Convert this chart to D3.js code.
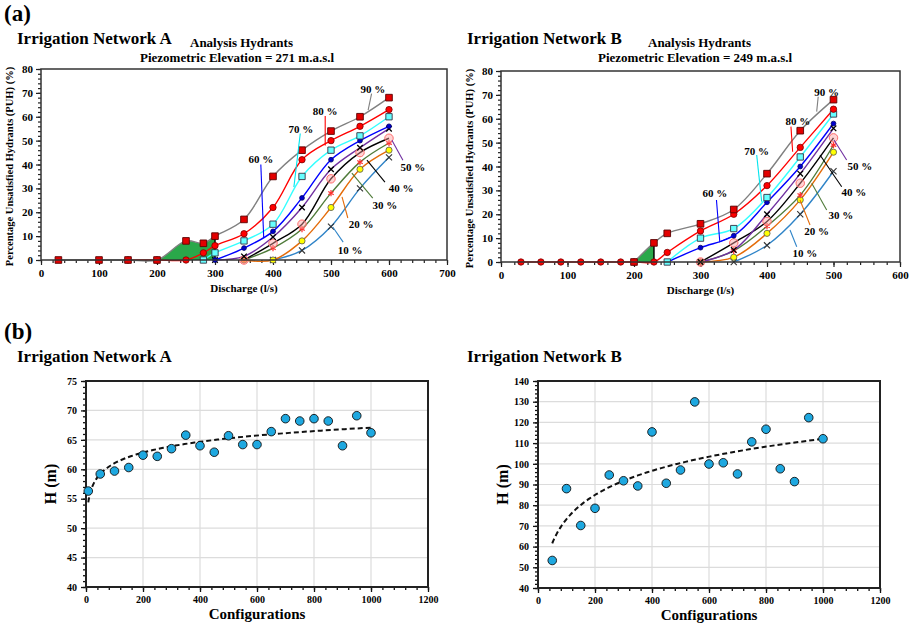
<!DOCTYPE html>
<html>
<head>
<meta charset="utf-8">
<script src="https://cdn.jsdelivr.net/npm/d3@7"></script>
<style>
  body { margin: 0; background: #fff; }
  svg { font-family: 'Liberation Serif', 'Times New Roman', serif; font-weight: bold; }
</style>
</head>
<body>
<svg id="fig" width="913" height="628" font-family="'Liberation Serif', 'Times New Roman', serif" font-weight="bold"></svg>
<script>
// ---- data: PUH (%) vs discharge (l/s), [discharge, puh] per reliability level
const levels = ['10 %', '20 %', '30 %', '40 %', '50 %', '60 %', '70 %', '80 %', '90 %']

const netA10 = [[400, 0], [450, 4], [500, 14], [550, 30], [600, 43]]
const netA20 = [[350, 0], [400, 0], [450, 8], [500, 22], [550, 38], [600, 46]]
const netA30 = [[350, 0], [400, 5], [450, 13], [500, 28], [550, 41], [600, 49]]
const netA40 = [[350, 0], [400, 7], [450, 15], [500, 34], [550, 45], [600, 51]]
const netA50 = [[300, 0], [350, 1.5], [400, 9.6], [450, 22], [500, 38], [550, 47], [600, 55]]
const netA60 = [[300, 0], [350, 5], [400, 12], [450, 26], [500, 42], [550, 50], [600, 56]]
const netA70 = [[280, 0], [300, 3], [350, 8], [400, 15], [450, 35], [500, 46], [550, 52], [600, 60]]
const netA80 = [[150, 0], [200, 0], [250, 0], [280, 3], [300, 6], [350, 11], [400, 22], [450, 42], [500, 50], [550, 56], [600, 63]]
const netA90 = [[30, 0], [100, 0], [150, 0], [200, 0], [250, 8], [280, 7], [300, 10], [350, 17], [400, 35], [450, 46], [500, 54], [550, 60], [600, 68]]

const netB10 = [[350, 0], [400, 7], [450, 20], [500, 38]]
const netB20 = [[300, 0], [350, 2], [400, 12], [450, 26], [500, 46]]
const netB30 = [[300, 0], [350, 4.7], [400, 15], [450, 28], [500, 49]]
const netB40 = [[300, 0], [350, 8], [400, 17], [450, 33], [500, 52]]
const netB50 = [[300, 0], [350, 5], [400, 20], [450, 37], [500, 56]]
const netB60 = [[250, 0], [300, 6], [350, 11], [400, 25], [450, 40], [500, 58]]
const netB70 = [[250, 0], [300, 10], [350, 14], [400, 27], [450, 44], [500, 62]]
const netB80 = [[30, 0], [60, 0], [90, 0], [120, 0], [150, 0], [180, 0], [200, 0], [230, 0], [250, 4], [300, 13], [350, 20], [400, 32], [450, 48], [500, 64]]
const netB90 = [[200, 0], [230, 8], [250, 12], [300, 16], [350, 22], [400, 37], [450, 55], [500, 68]]

// critical discharge bands (shaded), [from, to] in l/s
const shadeA = [200, 300]
const shadeB = [200, 230]

// ---- data: pressure head H (m) per number of configurations
const configs = [8, 50, 100, 150, 200, 250, 300, 350, 400, 450, 500, 550, 600, 650, 700, 750, 800, 850, 900, 950, 1000]
const headA = [56.3, 59.2, 59.7, 60.3, 62.4, 62.2, 63.5, 65.8, 64.0, 62.9, 65.7, 64.2, 64.2, 66.4, 68.6, 68.2, 68.6, 68.2, 64.0, 69.1, 66.2]
const configsB = [50, 100, 150, 200, 250, 300, 350, 400, 450, 500, 550, 600, 650, 700, 750, 800, 850, 900, 950, 1000]
const headB = [53.3, 88.0, 70.2, 78.5, 94.6, 91.8, 89.3, 115.4, 90.6, 97.0, 129.9, 99.9, 100.5, 95.1, 110.6, 116.7, 97.6, 91.4, 122.3, 112.1]

// ---- styles per level
const lineColors = ['#2f84c8', '#e46c0a', '#4f7b3a', '#000000', '#7030a0', '#0000ff', '#33ffff', '#ff0000', '#808080']
const asterisk = d3.symbolAsterisk || d3.symbolCross
const times = d3.symbolTimes || d3.symbolCross
const markerStyles = [
  { type: times, size: 26, fill: 'none', stroke: '#333', sw: 1.1 },
  { type: d3.symbolCircle, size: 30, fill: '#ffff00', stroke: '#555', sw: 0.8 },
  { type: asterisk, size: 28, fill: 'none', stroke: '#ff3030', sw: 1.2 },
  { type: d3.symbolCircle, size: 56, fill: 'rgba(255,160,160,0.45)', stroke: '#ff6b6b', sw: 1 },
  { type: times, size: 22, fill: 'none', stroke: '#000', sw: 1.3 },
  { type: d3.symbolCircle, size: 18, fill: '#0000cc', stroke: '#000066', sw: 0.8 },
  { type: d3.symbolSquare, size: 40, fill: '#66ffff', stroke: '#334', sw: 0.9 },
  { type: d3.symbolCircle, size: 32, fill: '#ff0000', stroke: '#7a0000', sw: 0.8 },
  { type: d3.symbolSquare, size: 44, fill: '#e30000', stroke: '#5a0000', sw: 0.9 }
]

// label placement (data units): text centre and leader points
const labelsA = [
  { at: [533, 4.2], pts: [[521, 7.5], [503, 13.8]] },
  { at: [552, 15.1], pts: [[529, 17.6], [519, 26.4]] },
  { at: [593, 23], pts: [[572, 25.9], [536, 36.4]] },
  { at: [621, 30.1], pts: [[593, 32.6], [562, 41.8]] },
  { at: [641, 38.9], pts: [[624, 41.8], [605, 50.2]] },
  { at: [379, 42.3], pts: [[379, 40], [384, 9.2]] },
  { at: [448, 54.8], pts: [[447, 53], [436, 30.5]] },
  { at: [490, 62.3], pts: [[490, 60.3], [490, 48]] },
  { at: [572, 71.5], pts: [[570, 69.7], [564, 62.8]] }
]
const labelsB = [
  { at: [457, 3.9], pts: [[444.7, 6.4], [434.6, 13.4]] },
  { at: [474.7, 13], pts: [[464.7, 15.5], [449.6, 26]] },
  { at: [511, 19.7], pts: [[489.8, 21.8], [467.2, 33]] },
  { at: [530.8, 29.3], pts: [[512.3, 31.5], [479.7, 44.8]] },
  { at: [539.8, 40.2], pts: [[519.8, 42.7], [500.8, 51.1]] },
  { at: [321.8, 28.8], pts: [[324, 26], [329, 8.5], [349, 10.9]] },
  { at: [384.5, 46.6], pts: [[384.5, 44.8], [392, 25.3]] },
  { at: [446.6, 58.8], pts: [[436, 56.7], [438.6, 46.2]] },
  { at: [489.8, 71.3], pts: [[477, 69.2], [474.7, 63]] }
]

const serif = "'Liberation Serif', 'Times New Roman', serif"
const svg = d3.select('#fig')

let boldText = function (sel) {
  sel.attr('font-family', serif)
  sel.selectAll('text')
    .attr('font-family', serif)
    .attr('font-weight', 'bold')
    .attr('fill', '#000')
}

let addText = function (x, y, size, txt, anchor) {
  return svg.append('text')
    .attr('x', x).attr('y', y)
    .attr('font-size', size)
    .attr('text-anchor', anchor || 'start')
    .text(txt)
}

let drawPuh = function (cfg) {
  const x = d3.scaleLinear().domain([0, cfg.xMax]).range([cfg.left, cfg.right])
  const y = d3.scaleLinear().domain([0, 80]).range([cfg.bottom, cfg.top])
  const g = svg.append('g')

  // axes: minor then major ticks
  g.append('g').attr('transform', `translate(0,${cfg.bottom})`)
    .call(d3.axisBottom(x).tickValues(d3.range(0, cfg.xMax + 1, 20)).tickSize(3).tickFormat(''))
  g.append('g').attr('transform', `translate(${cfg.left},0)`)
    .call(d3.axisLeft(y).tickValues(d3.range(0, 81, 2)).tickSize(3).tickFormat(''))
  const xAxisG = g.append('g').attr('transform', `translate(0,${cfg.bottom})`)
    .call(d3.axisBottom(x).tickValues(d3.range(0, cfg.xMax + 1, 100)).tickSize(5).tickPadding(4).tickFormat(d3.format('d')))
  const yAxisG = g.append('g').attr('transform', `translate(${cfg.left},0)`)
    .call(d3.axisLeft(y).tickValues(d3.range(0, 81, 10)).tickSize(5).tickPadding(3))
  g.selectAll('.domain').remove()
  g.selectAll('.tick line').attr('stroke', '#222').attr('stroke-width', 1.2)
  boldText(xAxisG); boldText(yAxisG)
  xAxisG.selectAll('text').attr('font-size', 11)
  yAxisG.selectAll('text').attr('font-size', 11)

  const line = d3.line().x(d => x(d[0])).y(d => y(d[1])).curve(d3.curveCatmullRom)
  const area = d3.area().x(d => x(d[0])).y0(y(0)).y1(d => y(d[1])).curve(d3.curveCatmullRom)

  // shaded critical zone under the 90 % curve
  const top = cfg.series[8]
  svg.append('defs').append('clipPath').attr('id', cfg.id + 'clip')
    .append('rect')
    .attr('x', x(cfg.shade[0])).attr('width', x(cfg.shade[1]) - x(cfg.shade[0]))
    .attr('y', cfg.top).attr('height', y(0) - cfg.top)
  g.append('path').datum(top)
    .attr('d', area)
    .attr('fill', '#2aa84a')
    .attr('clip-path', `url(#${cfg.id}clip)`)
  const edge = top.find(d => d[0] === cfg.shade[1])
  g.append('line')
    .attr('x1', x(cfg.shade[1])).attr('x2', x(cfg.shade[1]))
    .attr('y1', y(0)).attr('y2', y(edge[1]))
    .attr('stroke', '#000').attr('stroke-width', 1.5)

  cfg.series.forEach((s, i) => {
    g.append('path').datum(s)
      .attr('d', line)
      .attr('fill', 'none')
      .attr('stroke', lineColors[i])
      .attr('stroke-width', 1.4)
  })
  cfg.series.forEach((s, i) => {
    const m = markerStyles[i]
    g.selectAll(null).data(s).enter().append('path')
      .attr('transform', d => `translate(${x(d[0])},${y(d[1])})`)
      .attr('d', d3.symbol().type(m.type).size(m.size))
      .attr('fill', m.fill)
      .attr('stroke', m.stroke)
      .attr('stroke-width', m.sw)
  })

  // level labels with leader lines
  const leader = d3.line().x(d => x(d[0])).y(d => y(d[1]))
  cfg.labels.forEach((l, i) => {
    g.append('path').datum(l.pts)
      .attr('d', leader)
      .attr('fill', 'none')
      .attr('stroke', lineColors[i] === '#33ffff' ? '#00e5ee' : lineColors[i])
      .attr('stroke-width', 1.1)
    g.append('text')
      .attr('x', x(l.at[0])).attr('y', y(l.at[1]))
      .attr('dy', '0.35em')
      .attr('text-anchor', 'middle')
      .attr('font-size', 11)
      .text(levels[i])
  })

  g.append('rect')
    .attr('x', cfg.left).attr('y', cfg.top)
    .attr('width', cfg.right - cfg.left).attr('height', cfg.bottom - cfg.top)
    .attr('fill', 'none').attr('stroke', '#333').attr('stroke-width', 1.5)

  g.append('text')
    .attr('transform', `translate(${cfg.left - 28},${(cfg.top + cfg.bottom) / 2 + 2}) rotate(-90)`)
    .attr('text-anchor', 'middle')
    .attr('font-size', 10.5)
    .text('Percentage Unsatisfied Hydrants (PUH) (%)')
  g.append('text')
    .attr('x', (cfg.left + cfg.right) / 2).attr('y', cfg.bottom + 32)
    .attr('text-anchor', 'middle')
    .attr('font-size', 11)
    .text('Discharge (l/s)')
}

let drawScatter = function (cfg) {
  const x = d3.scaleLinear().domain([0, 1200]).range([cfg.left, cfg.right])
  const y = d3.scaleLinear().domain(cfg.yDomain).range([cfg.bottom, cfg.top])
  const g = svg.append('g')
  const yTicks = d3.range(cfg.yDomain[0], cfg.yDomain[1] + 0.1, cfg.yStep)
  const xTicks = d3.range(0, 1201, 200)

  // gridlines
  g.append('g').selectAll('line').data(xTicks).enter().append('line')
    .attr('x1', d => x(d)).attr('x2', d => x(d))
    .attr('y1', cfg.top).attr('y2', cfg.bottom)
    .attr('stroke', '#dcdcdc').attr('stroke-width', 1.2)
  g.append('g').selectAll('line').data(yTicks).enter().append('line')
    .attr('x1', cfg.left).attr('x2', cfg.right)
    .attr('y1', d => y(d)).attr('y2', d => y(d))
    .attr('stroke', '#dcdcdc').attr('stroke-width', 1.2)

  g.append('g').attr('transform', `translate(0,${cfg.bottom})`)
    .call(d3.axisBottom(x).tickValues(d3.range(0, 1201, 40)).tickSize(3).tickFormat(''))
  g.append('g').attr('transform', `translate(${cfg.left},0)`)
    .call(d3.axisLeft(y).tickValues(d3.range(cfg.yDomain[0], cfg.yDomain[1] + 0.1, cfg.yMinor)).tickSize(3).tickFormat(''))
  const xAxisG = g.append('g').attr('transform', `translate(0,${cfg.bottom})`)
    .call(d3.axisBottom(x).tickValues(xTicks).tickSize(5).tickPadding(4).tickFormat(d3.format('d')))
  const yAxisG = g.append('g').attr('transform', `translate(${cfg.left},0)`)
    .call(d3.axisLeft(y).tickValues(yTicks).tickSize(5).tickPadding(4).tickFormat(d3.format('d')))
  g.selectAll('.domain').remove()
  g.selectAll('.tick line').attr('stroke', '#111').attr('stroke-width', 1.3)
  boldText(xAxisG); boldText(yAxisG)
  xAxisG.selectAll('text').attr('font-size', 10)
  yAxisG.selectAll('text').attr('font-size', 10)

  g.append('rect')
    .attr('x', cfg.left).attr('y', cfg.top)
    .attr('width', cfg.right - cfg.left).attr('height', cfg.bottom - cfg.top)
    .attr('fill', 'none').attr('stroke', '#222').attr('stroke-width', 2)

  // logarithmic trendline (least squares on ln x)
  const pts = cfg.xs.map((v, i) => [v, cfg.ys[i]])
  const lx = pts.map(d => Math.log(d[0]))
  const mx = d3.mean(lx)
  const my = d3.mean(pts, d => d[1])
  const a = d3.sum(pts, (d, i) => (lx[i] - mx) * (d[1] - my)) / d3.sum(lx, v => (v - mx) * (v - mx))
  const b = my - a * mx
  const xMin = d3.min(cfg.xs)
  const xMax = d3.max(cfg.xs)
  const trend = d3.range(0, 101).map(k => {
    const xv = xMin * Math.pow(xMax / xMin, k / 100)
    return [xv, a * Math.log(xv) + b]
  })
  g.append('path').datum(trend)
    .attr('d', d3.line().x(d => x(d[0])).y(d => y(d[1])))
    .attr('fill', 'none')
    .attr('stroke', '#111')
    .attr('stroke-width', 2)
    .attr('stroke-dasharray', '5,3')

  g.selectAll(null).data(pts).enter().append('circle')
    .attr('cx', d => x(d[0])).attr('cy', d => y(d[1]))
    .attr('r', 4.3)
    .attr('fill', '#1ea8e0')
    .attr('stroke', '#111')
    .attr('stroke-width', 0.9)

  g.append('text')
    .attr('transform', `translate(${cfg.left - 30},${(cfg.top + cfg.bottom) / 2}) rotate(-90)`)
    .attr('text-anchor', 'middle')
    .attr('font-size', 16)
    .text('H (m)')
  g.append('text')
    .attr('x', (cfg.left + cfg.right) / 2).attr('y', cfg.bottom + 32)
    .attr('text-anchor', 'middle')
    .attr('font-size', 15)
    .text('Configurations')
}

// ---- panel (a)
addText(4, 21, 23, '(a)')
addText(17, 44, 17, 'Irrigation Network A')
addText(190, 47, 13, 'Analysis Hydrants')
addText(140, 62, 13, 'Piezometric Elevation = 271 m.a.s.l')
addText(467, 44, 17, 'Irrigation Network B')
addText(648, 47, 13, 'Analysis Hydrants')
addText(598, 62, 13, 'Piezometric Elevation = 249 m.a.s.l')

drawPuh({
  id: 'a',
  left: 41, right: 447, top: 69, bottom: 260, xMax: 700,
  series: [netA10, netA20, netA30, netA40, netA50, netA60, netA70, netA80, netA90],
  shade: shadeA,
  labels: labelsA
})
drawPuh({
  id: 'b',
  left: 501, right: 900, top: 71, bottom: 262, xMax: 600,
  series: [netB10, netB20, netB30, netB40, netB50, netB60, netB70, netB80, netB90],
  shade: shadeB,
  labels: labelsB
})

// ---- panel (b)
addText(4, 339, 23, '(b)')
addText(17, 362, 17, 'Irrigation Network A')
addText(467, 362, 17, 'Irrigation Network B')

drawScatter({
  left: 86, right: 428, top: 381, bottom: 587,
  yDomain: [40, 75], yStep: 5, yMinor: 1,
  xs: configs, ys: headA
})
drawScatter({
  left: 538, right: 880, top: 381, bottom: 588,
  yDomain: [40, 140], yStep: 10, yMinor: 2,
  xs: configsB, ys: headB
})
</script>
</body>
</html>
